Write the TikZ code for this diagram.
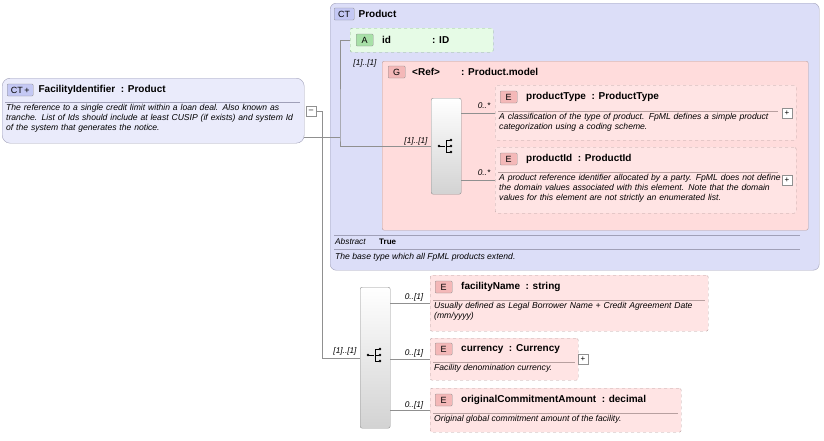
\documentclass[tikz,border=0pt]{standalone}
\usepackage{fontspec}
\setmainfont{Liberation Sans}
\usetikzlibrary{positioning}
\hyphenpenalty=10000
\definecolor{ctfill}{HTML}{DCDEF8}
\definecolor{ctdraw}{HTML}{A0A0B8}
\definecolor{ctbadge}{HTML}{C4C8F4}
\definecolor{efill}{HTML}{FFE4E4}
\definecolor{edraw}{HTML}{B8A0A0}
\definecolor{gfill}{HTML}{FFDCDC}
\definecolor{afill}{HTML}{E6FBE6}
\definecolor{abadge}{HTML}{A8E0A8}
\definecolor{adraw}{HTML}{90B890}
\definecolor{ebadge}{HTML}{F4B8B8}
\definecolor{linegray}{HTML}{909090}
\begin{document}
\begin{tikzpicture}[x=1pt, y=-1pt,
    box/.style = {anchor=north west, inner sep=0pt, rounded corners=2pt},
    ctbox/.style = {box, draw=ctdraw, fill=ctfill, rounded corners=6pt},
    elem/.style = {box, draw=edraw, fill=efill, dashed},
    seq/.style = {box, draw=linegray, top color=white, bottom color=gray!35, minimum width=30pt},
    badge/.style = {draw=linegray, fill=#1, inner sep=1pt, minimum width=17pt, minimum height=12pt, font=\fontsize{9}{9}\selectfont, rounded corners=1pt},
    title/.style = {anchor=west, font=\bfseries\fontsize{10}{11}\selectfont, inner sep=1pt},
    desc/.style = {anchor=north west, font=\itshape\fontsize{8.6}{9.8}\selectfont, align=left, inner sep=1pt},
    card/.style = {font=\itshape\fontsize{8.3}{9}\selectfont, inner sep=1pt},
    tog/.style = {draw=linegray, fill=white, minimum size=10pt, inner sep=0pt, font=\fontsize{8}{8}\selectfont},
    conn/.style = {draw=linegray}]

  \useasboundingbox (0,0) rectangle (824,440);

  % main type
  \node[box, draw=ctdraw, fill=ctfill!60, rounded corners=8pt, minimum width=302pt, minimum height=65pt] (FI) at (2,78) {};
  \node[badge=ctbadge, anchor=west, minimum width=26pt] (FI_b) at (7,90) {CT\,+};
  \node[title, right=4pt of FI_b] {FacilityIdentifier\ \ : Product};
  \draw[ctdraw] (5,102) -- (300,102);
  \node[desc, text width=296pt] at (5,103) {The reference to a single credit limit within a loan deal. Also known as tranche. List of Ids should include at least CUSIP (if exists) and system Id of the system that generates the notice.};
  \node[tog] (FI_t) at (311,111) {--};

  % base type
  \node[ctbox, minimum width=489pt, minimum height=267pt] (PR) at (330,3) {};
  \node[badge=ctbadge, anchor=west, minimum width=20pt] (PR_b) at (334,14) {CT};
  \node[title, right=3pt of PR_b] {Product};

  \node[box, draw=adraw, fill=afill, dashed, minimum width=143pt, minimum height=24pt] (ID) at (350,28) {};
  \node[badge=abadge, anchor=west] (ID_b) at (356,40) {A};
  \node[title, anchor=west] at (381,40) {id};
  \node[title, anchor=west] at (431,40) {: ID};

  \node[box, draw=edraw, fill=gfill, minimum width=426pt, minimum height=169pt] (GR) at (382,61) {};
  \node[badge=ebadge, anchor=west] (GR_b) at (388,72) {G};
  \node[title, anchor=west] at (411,72) {<Ref>};
  \node[title, anchor=west] at (460,72) {: Product.model};

  \node[seq, minimum height=96pt] (SQ1) at (431,98) {};
  \coordinate (SQ1_s) at (446,146);

  \node[elem, minimum width=301pt, minimum height=55pt] (PT) at (495,85) {};
  \node[badge=ebadge, anchor=west] at (500,97) {E};
  \node[title, anchor=west] at (525,97) {productType\ \ : ProductType};
  \draw[edraw] (498,111) -- (778,111);
  \node[desc, text width=282pt] at (498,112) {A classification of the type of product. FpML defines a simple product categorization using a coding scheme.};
  \node[tog] (PT_t) at (787,113) {+};

  \node[elem, minimum width=301pt, minimum height=66pt] (PI) at (495,147) {};
  \node[badge=ebadge, anchor=west] at (500,159) {E};
  \node[title, anchor=west] at (525,159) {productId\ \ : ProductId};
  \draw[edraw] (498,172) -- (778,172);
  \node[desc, text width=282pt] at (498,173) {A product reference identifier allocated by a party. FpML does not define the domain values associated with this element. Note that the domain values for this element are not strictly an enumerated list.};
  \node[tog] (PI_t) at (787,180) {+};

  \draw[ctdraw] (334,235) -- (800,235);
  \node[card, anchor=west] at (334,242) {Abstract};
  \node[anchor=west, font=\bfseries\fontsize{8}{9}\selectfont, inner sep=1pt] at (378,242) {True};
  \draw[ctdraw] (334,249) -- (800,249);
  \node[desc] at (334,252) {The base type which all FpML products extend.};

  % local sequence
  \node[seq, minimum height=141pt] (SQ2) at (360,287) {};
  \coordinate (SQ2_s) at (375,355);

  % sequence symbols
  \foreach \s in {SQ1_s, SQ2_s} {
    \fill (\s) ++(-7,0) circle (1.3pt);
    \draw (\s) ++(-7,0) -- ++(6,0);
    \draw (\s) ++(0,-6) -- ++(0,12);
    \draw (\s) ++(0,-6) -- ++(4,0) (\s) -- ++(4,0) (\s) ++(0,6) -- ++(4,0);
    \fill (\s) ++(5,-6) circle (1.3pt) (\s) ++(5,0) circle (1.3pt) (\s) ++(5,6) circle (1.3pt);
  }

  \node[elem, minimum width=278pt, minimum height=56pt] (FN) at (430,275) {};
  \node[badge=ebadge, anchor=west] at (435,287) {E};
  \node[title, anchor=west] at (460,287) {facilityName\ \ : string};
  \draw[edraw] (433,300) -- (705,300);
  \node[desc, text width=272pt] at (433,301) {Usually defined as Legal Borrower Name + Credit Agreement Date (mm/yyyy)};

  \node[elem, minimum width=148pt, minimum height=42pt] (CU) at (430,338) {};
  \node[badge=ebadge, anchor=west] at (435,349) {E};
  \node[title, anchor=west] at (460,349) {currency\ \ : Currency};
  \draw[edraw] (433,362) -- (575,362);
  \node[desc] at (433,363) {Facility denomination currency.};
  \node[tog] (CU_t) at (583,359) {+};

  \node[elem, minimum width=251pt, minimum height=44pt] (OC) at (430,388) {};
  \node[badge=ebadge, anchor=west] at (435,400) {E};
  \node[title, anchor=west] at (460,400) {originalCommitmentAmount\ \ : decimal};
  \draw[edraw] (433,413) -- (678,413);
  \node[desc] at (433,414) {Original global commitment amount of the facility.};

  % connectors
  \coordinate (J1) at (322,111);
  \coordinate (J2) at (340,137);
  \draw[conn] (FI_t.east) -- (J1) |- (SQ2.west);
  \draw[conn] (FI.east |- J2) -- (J2);
  \draw[conn] (ID.west) -| (J2) |- (SQ1.west);
  \draw[conn] (SQ1.east |- PT.west) -- (PT.west);
  \draw[conn] (SQ1.east |- PI.west) -- (PI.west);
  \draw[conn] (SQ2.east |- FN.west) -- (FN.west);
  \draw[conn] (SQ2.east |- CU.west) -- (CU.west);
  \draw[conn] (SQ2.east |- OC.west) -- (OC.west);

  \node[card] at (365,63) {[1]..[1]};
  \node[card] at (416,141) {[1]..[1]};
  \node[card] at (484,106) {0..*};
  \node[card] at (484,173) {0..*};
  \node[card] at (345,351) {[1]..[1]};
  \node[card] at (414,297) {0..[1]};
  \node[card] at (414,353) {0..[1]};
  \node[card] at (414,405) {0..[1]};
\end{tikzpicture}
\end{document}
